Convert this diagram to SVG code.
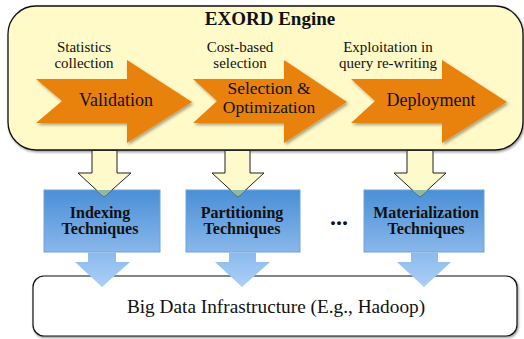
<svg xmlns="http://www.w3.org/2000/svg" width="524" height="339" viewBox="0 0 524 339" font-family="'Liberation Serif', 'Times New Roman', 'DejaVu Serif', serif">
  <defs>
    <filter id="sh" x="-10%" y="-10%" width="130%" height="130%">
      <feDropShadow dx="1.5" dy="2" stdDeviation="1.5" flood-color="#000" flood-opacity="0.35"/>
    </filter>
    <filter id="shs" x="-5%" y="-5%" width="110%" height="115%">
      <feDropShadow dx="1" dy="1.5" stdDeviation="0.8" flood-color="#000" flood-opacity="0.4"/>
    </filter>
    <linearGradient id="bg" x1="0" y1="0" x2="0" y2="1">
      <stop offset="0" stop-color="#4A8FD6"/>
      <stop offset="1" stop-color="#89B7EB"/>
    </linearGradient>
    <linearGradient id="ba" x1="0" y1="0" x2="0" y2="1">
      <stop offset="0" stop-color="#8BB9EC"/>
      <stop offset="1" stop-color="#ABD0F8"/>
    </linearGradient>
    <style>
      text{font-family:'Liberation Serif','Times New Roman','DejaVu Serif',serif;fill:#111}
      .lbl{font-size:15px;text-anchor:middle}
      .arr{font-size:18px;text-anchor:middle}
      .arr2{font-size:17.5px;text-anchor:middle}
      .tech{font-size:16px;font-weight:bold;text-anchor:middle}
      .orange{fill:#E9820C}
      .yarrow{fill:#FFFACB;stroke:#222;stroke-width:1}
      .barrow{fill:url(#ba)}
      .box{fill:url(#bg);stroke:#6FA3DA;stroke-width:1}
      .tip{fill:#8DB9A6}
    </style>
  </defs>

  <g id="engine">
    <rect x="8" y="6" width="515" height="144" rx="28" ry="28" fill="#FFFAC8" stroke="#111" stroke-width="1.3" filter="url(#shs)"/>
    <text x="270" y="25" font-size="19" font-weight="bold" text-anchor="middle">EXORD Engine</text>
  </g>

  <g id="validation">
    <text class="lbl" x="84" y="52">Statistics</text>
    <text class="lbl" x="84" y="68">collection</text>
    <polygon class="orange" filter="url(#sh)" points="36,79 127,79 127,60 192,102 127,143 127,123 36,123 62,101"/>
    <text class="arr" x="116" y="106">Validation</text>
  </g>

  <g id="selection">
    <text class="lbl" x="240" y="52">Cost-based</text>
    <text class="lbl" x="240" y="68">selection</text>
    <polygon class="orange" filter="url(#sh)" points="193,79 284,79 284,60 347,102 284,143 284,123 193,123 217,101"/>
    <text class="arr2" x="269" y="94">Selection &amp;</text>
    <text class="arr2" x="269" y="113">Optimization</text>
  </g>

  <g id="deployment">
    <text class="lbl" x="388" y="52">Exploitation in</text>
    <text class="lbl" x="388" y="68">query re-writing</text>
    <polygon class="orange" filter="url(#sh)" points="351,79 442,79 442,60 507,102 442,143 442,123 351,123 375,101"/>
    <text class="arr" x="431" y="106">Deployment</text>
  </g>

  <g id="infrastructure">
    <rect x="33" y="276" width="484" height="60" rx="11" ry="11" fill="#fff" stroke="#111" stroke-width="1.2" filter="url(#shs)"/>
    <text x="276" y="313" font-size="19.3" text-anchor="middle">Big Data Infrastructure (E.g., Hadoop)</text>
  </g>

  <g id="indexing">
    <rect class="box" x="44" y="190" width="116" height="62"/>
    <text class="tech" x="100" y="218">Indexing</text>
    <text class="tech" x="100" y="234">Techniques</text>
  </g>

  <g id="partitioning">
    <rect class="box" x="186" y="190" width="114" height="62"/>
    <text class="tech" x="242" y="218">Partitioning</text>
    <text class="tech" x="242" y="234">Techniques</text>
  </g>

  <g id="ellipsis">
    <text x="339" y="225" font-size="24" font-weight="bold" text-anchor="middle">...</text>
  </g>

  <g id="materialization">
    <rect class="box" x="364" y="190" width="120" height="62"/>
    <text class="tech" x="426" y="218">Materialization</text>
    <text class="tech" x="426" y="234">Techniques</text>
  </g>

  <g id="connectors">
    <polygon class="yarrow" points="92,150.5 117,150.5 117,173 131,173 104,197 78,173 92,173"/>
    <polygon class="tip" points="96,190 112,190 104,197"/>
    <polygon class="yarrow" points="225,150.5 250,150.5 250,173 264,173 238,197 212,173 225,173"/>
    <polygon class="tip" points="230,190 246,190 238,197"/>
    <polygon class="yarrow" points="407,150.5 433,150.5 433,173 446,173 420,197 394,173 407,173"/>
    <polygon class="tip" points="412,190 428,190 420,197"/>

    <polygon class="barrow" points="88,252.5 116,252.5 116,262 130,262 102,287 75,262 88,262"/>
    <polygon class="barrow" points="229,252.5 256,252.5 256,262 270,262 242,287 215,262 229,262"/>
    <polygon class="barrow" points="411,252.5 438,252.5 438,262 451,262 424,287 397,262 411,262"/>
  </g>
</svg>
